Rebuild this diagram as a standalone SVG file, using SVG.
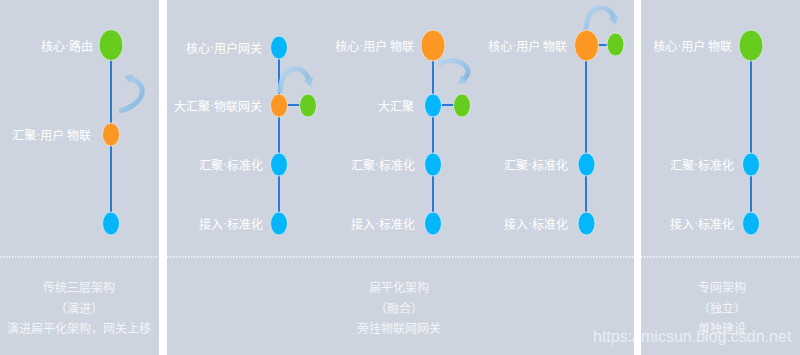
<svg xmlns="http://www.w3.org/2000/svg" width="800" height="355" viewBox="0 0 800 355">
<defs>
<style>
.panel{fill:#cdd4df}
.sep{stroke:#ffffff;stroke-width:1.5;stroke-dasharray:1.5 1.5;opacity:0.85}
.ln{stroke:#2b7ad8;stroke-width:2;fill:none}
.g{fill:#66cc1e;stroke:#e6eef0;stroke-width:0.8}
.o{fill:#fb9722;stroke:#eee8e0;stroke-width:0.8}
.b{fill:#06b6fb;stroke:#e0ecf5;stroke-width:0.8}
.lbl{font-family:"Noto Sans CJK SC","Noto Sans",sans-serif;font-size:12px;fill:#ffffff;text-anchor:end;dominant-baseline:central}
.d{font-family:"Liberation Sans",Arial,sans-serif}
.cap{font-family:"Noto Sans CJK SC","Noto Sans",sans-serif;font-size:12px;fill:#f2f4f8;text-anchor:middle;dominant-baseline:central}
.arc{fill:none;stroke:url(#ag);stroke-width:5;opacity:0.9}
.wm{font-family:"Liberation Sans",Arial,sans-serif;font-size:16px;fill:#ffffff;opacity:0.6}
</style>
<linearGradient id="ag" x1="0" y1="0" x2="1" y2="1">
<stop offset="0" stop-color="#b8d6ee"/>
<stop offset="1" stop-color="#7db3e0"/>
</linearGradient>
<marker id="ah" markerUnits="userSpaceOnUse" markerWidth="12" markerHeight="12" refX="2" refY="5" orient="auto">
<path d="M0,0 L8,5 L0,10 Z" fill="#9cc6e8"/>
</marker>
</defs>

<rect width="800" height="355" fill="#ffffff"/>
<rect class="panel" x="0" y="0" width="159" height="355"/>
<rect class="panel" x="167" y="0" width="467" height="355"/>
<rect class="panel" x="641" y="0" width="159" height="355"/>
<line class="sep" x1="0" y1="257" x2="159" y2="257"/>
<line class="sep" x1="167" y1="257" x2="634" y2="257"/>
<line class="sep" x1="641" y1="257" x2="800" y2="257"/>

<g id="connectors">
<line class="ln" x1="111" y1="45" x2="111" y2="223"/>
<line class="ln" x1="279" y1="47" x2="279" y2="223"/>
<line class="ln" x1="279" y1="105" x2="308" y2="105"/>
<line class="ln" x1="433" y1="45" x2="433" y2="223"/>
<line class="ln" x1="433" y1="105" x2="462" y2="105"/>
<line class="ln" x1="586" y1="45" x2="586" y2="223"/>
<line class="ln" x1="586" y1="45" x2="615" y2="45"/>
<line class="ln" x1="751" y1="45" x2="751" y2="223"/>
<path class="arc" d="M119 111 C142 106 152 86 130 78" marker-end="url(#ah)"/>
<path class="arc" d="M280 93 C280 64 304 62 309 81" marker-end="url(#ah)"/>
<path class="arc" d="M438 64 C456 54 478 68 463 80" marker-end="url(#ah)"/>
<path class="arc" d="M586 30 C586 3 610 2 614 19" marker-end="url(#ah)"/>
</g>

<g id="p1-core"><ellipse class="g" cx="111" cy="45" rx="12" ry="15.5"/><text class="lbl" x="93" y="45">核心<tspan class="d">·</tspan>路由</text></g>
<g id="p1-agg"><ellipse class="o" cx="111" cy="134.5" rx="8.5" ry="11.5"/><text class="lbl" x="91" y="134">汇聚<tspan class="d">·</tspan>用户 物联</text></g>
<g id="p1-acc"><ellipse class="b" cx="111" cy="223.5" rx="8.5" ry="11.5"/></g>

<g id="p2a-core"><ellipse class="b" cx="279" cy="47.5" rx="8.5" ry="11.5"/><text class="lbl" x="262" y="47">核心<tspan class="d">·</tspan>用户网关</text></g>
<g id="p2a-big"><ellipse class="o" cx="279" cy="105.5" rx="8.5" ry="11.5"/><text class="lbl" x="262" y="105">大汇聚<tspan class="d">·</tspan>物联网关</text></g>
<g id="p2a-iot"><ellipse class="g" cx="308" cy="105.5" rx="8.5" ry="11.5"/></g>
<g id="p2a-agg"><ellipse class="b" cx="279" cy="164.5" rx="8.5" ry="11.5"/><text class="lbl" x="263" y="164">汇聚<tspan class="d">·</tspan>标准化</text></g>
<g id="p2a-acc"><ellipse class="b" cx="279" cy="223.5" rx="8.5" ry="11.5"/><text class="lbl" x="263" y="223">接入<tspan class="d">·</tspan>标准化</text></g>

<g id="p2b-core"><ellipse class="o" cx="433" cy="45.5" rx="12" ry="15.5"/><text class="lbl" x="414" y="45">核心<tspan class="d">·</tspan>用户 物联</text></g>
<g id="p2b-big"><ellipse class="b" cx="433" cy="105.5" rx="8.5" ry="11.5"/><text class="lbl" x="414" y="105">大汇聚</text></g>
<g id="p2b-iot"><ellipse class="g" cx="462" cy="105.5" rx="8.5" ry="11.5"/></g>
<g id="p2b-agg"><ellipse class="b" cx="433" cy="164.5" rx="8.5" ry="11.5"/><text class="lbl" x="415" y="164">汇聚<tspan class="d">·</tspan>标准化</text></g>
<g id="p2b-acc"><ellipse class="b" cx="433" cy="223.5" rx="8.5" ry="11.5"/><text class="lbl" x="415" y="223">接入<tspan class="d">·</tspan>标准化</text></g>

<g id="p2c-core"><ellipse class="o" cx="586.5" cy="45.5" rx="12" ry="15.5"/><text class="lbl" x="567" y="45">核心<tspan class="d">·</tspan>用户 物联</text></g>
<g id="p2c-iot"><ellipse class="g" cx="615.5" cy="44.5" rx="8.5" ry="11.5"/></g>
<g id="p2c-agg"><ellipse class="b" cx="586.5" cy="164.5" rx="8.5" ry="11.5"/><text class="lbl" x="568" y="164">汇聚<tspan class="d">·</tspan>标准化</text></g>
<g id="p2c-acc"><ellipse class="b" cx="586.5" cy="223.5" rx="8.5" ry="11.5"/><text class="lbl" x="568" y="223">接入<tspan class="d">·</tspan>标准化</text></g>

<g id="p3-core"><ellipse class="g" cx="751" cy="45.5" rx="12" ry="15.5"/><text class="lbl" x="732" y="45">核心<tspan class="d">·</tspan>用户 物联</text></g>
<g id="p3-agg"><ellipse class="b" cx="751" cy="164.5" rx="8.5" ry="11.5"/><text class="lbl" x="734" y="164">汇聚<tspan class="d">·</tspan>标准化</text></g>
<g id="p3-acc"><ellipse class="b" cx="751" cy="223.5" rx="8.5" ry="11.5"/><text class="lbl" x="734" y="223">接入<tspan class="d">·</tspan>标准化</text></g>

<g id="captions">
<text class="cap" x="79" y="286">传统三层架构</text>
<text class="cap" x="79" y="307">（演进）</text>
<text class="cap" x="79" y="327">演进扁平化架构，网关上移</text>
<text class="cap" x="399" y="286">扁平化架构</text>
<text class="cap" x="399" y="307">（融合）</text>
<text class="cap" x="399" y="327">旁挂物联网网关</text>
<text class="cap" x="722" y="286">专网架构</text>
<text class="cap" x="722" y="307">（独立）</text>
<text class="cap" x="722" y="327">单独建设</text>
</g>
<text class="wm" x="593" y="342">https://micsun.blog.csdn.net</text>
</svg>
